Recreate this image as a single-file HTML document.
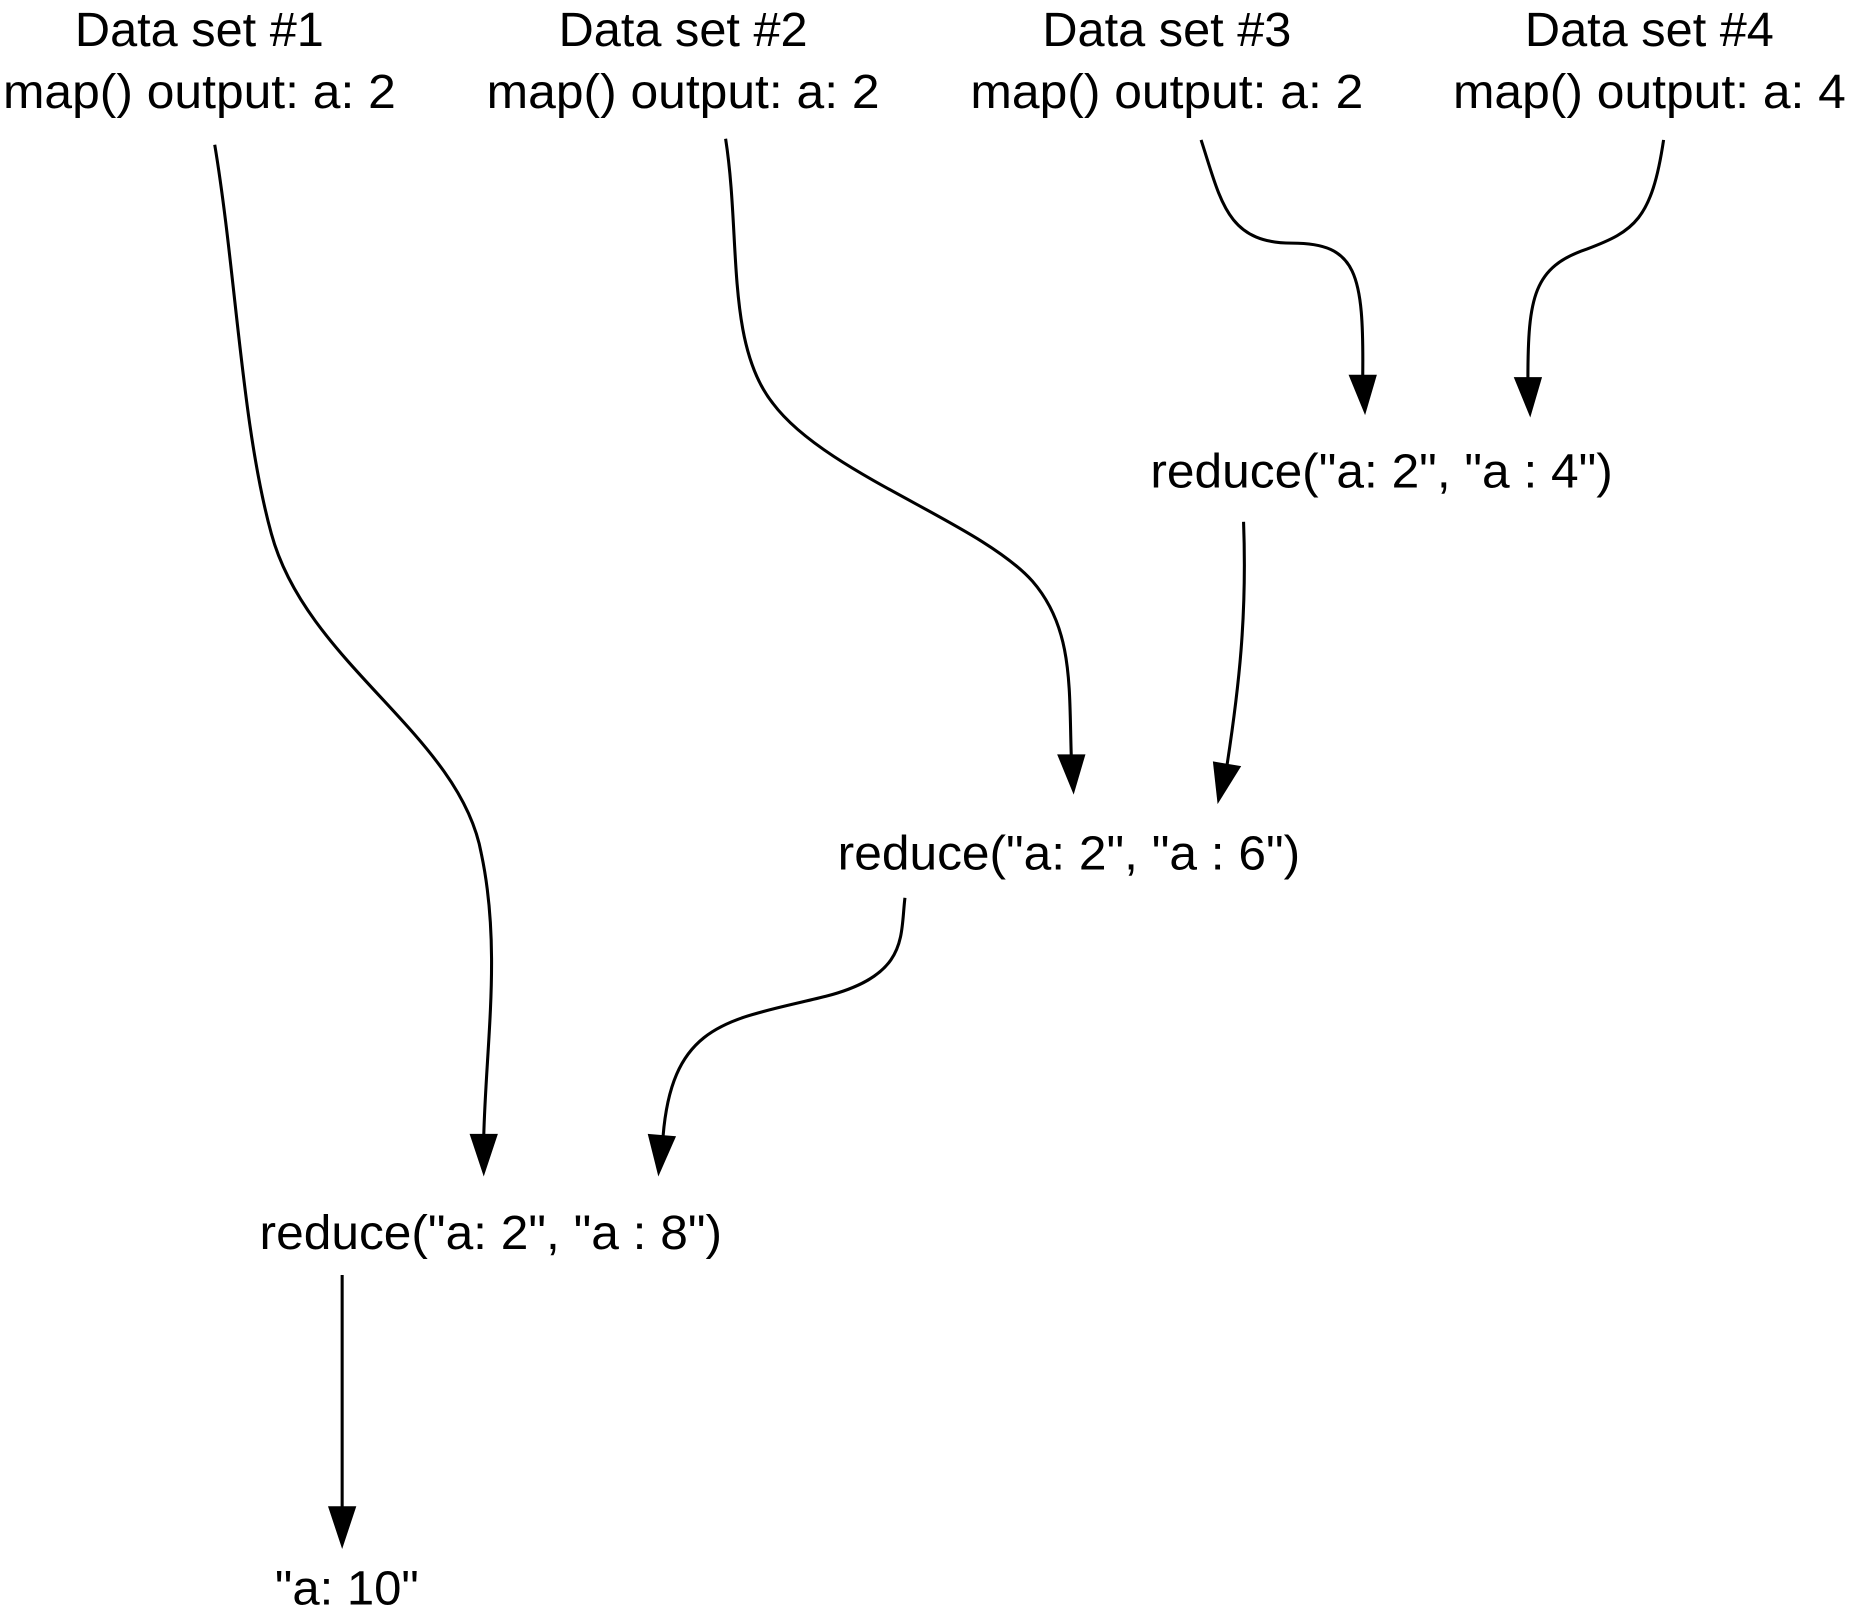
<!DOCTYPE html>
<html><head><meta charset="utf-8"><style>html,body{margin:0;padding:0;background:#fff}svg{display:block}</style></head>
<body>
<svg width="1850" height="1613" viewBox="0 0 1568 1360" preserveAspectRatio="none" xmlns="http://www.w3.org/2000/svg">
<g font-family="Liberation Sans, sans-serif" font-size="41" text-anchor="middle" fill="#000">
<text x="169" y="39" textLength="211" lengthAdjust="spacingAndGlyphs">Data set #1</text><text x="169" y="91" textLength="333" lengthAdjust="spacingAndGlyphs">map() output: a: 2</text>
<text x="579" y="39" textLength="211" lengthAdjust="spacingAndGlyphs">Data set #2</text><text x="579" y="91" textLength="333" lengthAdjust="spacingAndGlyphs">map() output: a: 2</text>
<text x="989" y="39" textLength="211" lengthAdjust="spacingAndGlyphs">Data set #3</text><text x="989" y="91" textLength="333" lengthAdjust="spacingAndGlyphs">map() output: a: 2</text>
<text x="1398" y="39" textLength="211" lengthAdjust="spacingAndGlyphs">Data set #4</text><text x="1398" y="91" textLength="333" lengthAdjust="spacingAndGlyphs">map() output: a: 4</text>
<text x="1171" y="411" textLength="392" lengthAdjust="spacingAndGlyphs">reduce("a: 2", "a : 4")</text>
<text x="906" y="733" textLength="392" lengthAdjust="spacingAndGlyphs">reduce("a: 2", "a : 6")</text>
<text x="416" y="1053" textLength="392" lengthAdjust="spacingAndGlyphs">reduce("a: 2", "a : 8")</text>
<text x="294" y="1353" textLength="122" lengthAdjust="spacingAndGlyphs">"a: 10"</text>
</g>
<g fill="none" stroke="#000" stroke-width="2.6">
<path d="M182,122 C200,230 205,360 230,450 C260,560 390,620 408,720 C425,800 412,880 410,958"/>
<path d="M615,117 C628,200 615,290 655,340 C700,400 830,440 875,490 C910,530 906,580 908,638"/>
<path d="M1018,118 C1035,170 1040,205 1095,205 C1150,205 1156,230 1155,318"/>
<path d="M1410,118 C1400,185 1385,195 1345,210 C1300,225 1295,250 1295,320"/>
<path d="M1054,440 C1057,520 1050,580 1040,645"/>
<path d="M767,757 C763,790 770,822 700,840 C620,860 570,860 562,958"/>
<path d="M290,1075 L290,1272"/>
</g>
<g fill="#000">
<polygon points="398,956 422,956 410,992"/>
<polygon points="896,636 920,636 910,670"/>
<polygon points="1143,316 1167,316 1157,350"/>
<polygon points="1283,318 1307,318 1297,352"/>
<polygon points="1028,642 1052,646 1032,678"/>
<polygon points="549,956 573,958 558,992"/>
<polygon points="278,1270 302,1270 290,1306"/>
</g>
</svg>
</body></html>
